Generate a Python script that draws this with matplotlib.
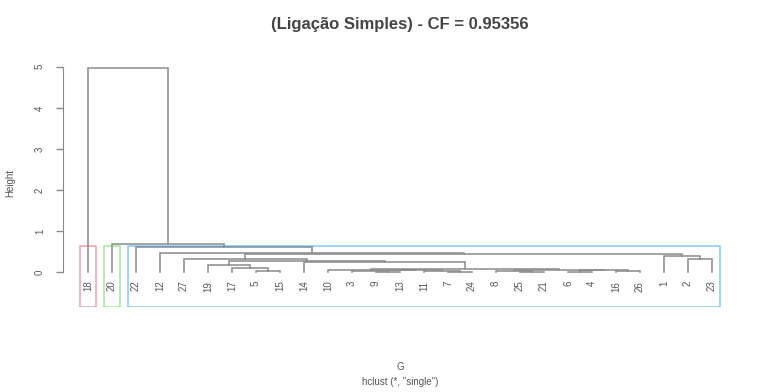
import matplotlib
matplotlib.use("Agg")
import matplotlib.pyplot as plt

plt.rcParams['font.family'] = ['Liberation Sans', 'DejaVu Sans']

# leaf labels in plotted order (left to right)
leaf_labels = ["18", "20", "22", "12", "27", "19", "17", "5", "15", "14",
               "10", "3", "9", "13", "11", "7", "24", "8", "25", "21",
               "6", "4", "16", "26", "1", "2", "23"]

# merges, R hclust style: negative = leaf number (1-based), positive = earlier merge row
merge_left = [-8, -7, -6, -13, -12, -16, -15, 4, -11, -19, -18, -21, -23, 12, 11, 9,
              -10, 3, -5, -26, -25, 19, -4, -3, -2, -1]
merge_right = [-9, 1, 2, -14, 4, -17, 6, 7, 8, -20, 10, -22, -24, 13, 14, 15,
               16, 17, 18, -27, 20, 21, 22, 23, 24, 25]
merge_height = [0.03, 0.11, 0.18, 0.02, 0.03, 0.02, 0.04, 0.05, 0.06, 0.01, 0.03, 0.02,
                0.03, 0.05, 0.06, 0.08, 0.25, 0.29, 0.33, 0.32, 0.41, 0.44, 0.47,
                0.61, 0.68, 4.98]

n_clusters = 3
cluster_sizes = [1, 1, 25]
box_colors = ["#DF536B", "#61D04F", "#2297E6"]

title = "(Ligação Simples) - CF = 0.95356"

fig = plt.figure(figsize=(7.64, 3.92), dpi=100)
ax = fig.add_axes([63 / 764, 1 - 307 / 392, (737 - 63) / 764, (307 - 58.5) / 392])
ymin = -0.84
ax.set_xlim(-0.04, len(leaf_labels) + 1.04)
ax.set_ylim(ymin, 5.2)

line_col = "#8a8a8a"
centers = []
for i in range(len(merge_height)):
    pts = []
    for child in (merge_left[i], merge_right[i]):
        if child < 0:
            pts.append((-child, 0.0))
        else:
            pts.append((centers[child - 1], merge_height[child - 1]))
    h = merge_height[i]
    (x1, y1), (x2, y2) = pts
    ax.plot([x1, x1, x2, x2], [y1, h, h, y2], color=line_col, lw=1.1,
            solid_joinstyle="miter")
    centers.append((x1 + x2) / 2)

for k, lab in enumerate(leaf_labels):
    ax.text(k + 1, -0.2, lab, rotation=90, ha="center", va="top",
            fontsize=7, color="#555555")

# rect.hclust boxes
top = (merge_height[-2] + merge_height[-3]) / 2
start = 0
for size, col in zip(cluster_sizes, box_colors):
    x0 = start + 0.66
    x1 = start + size + 0.33
    ax.plot([x0, x0, x1, x1, x0], [ymin, top, top, ymin, ymin], color=col,
            lw=1.2, alpha=0.5, clip_on=True)
    start += size

for s in ["top", "right", "bottom"]:
    ax.spines[s].set_visible(False)
ax.spines["left"].set_bounds(0, 5)
ax.spines["left"].set_color(line_col)
ax.set_xticks([])
ax.set_yticks(range(6))
ax.tick_params(axis="y", direction="out", length=5, width=1, color=line_col,
               labelsize=7, labelcolor="#555555", pad=8, labelrotation=90)
for t in ax.get_yticklabels():
    t.set_va("center")

fig.text(10 / 764, 1 - 183 / 392, "Height", rotation=90, ha="center", va="center",
         fontsize=7, color="#555555")
fig.text(400 / 764, 1 - 25 / 392, title, ha="center", va="center",
         fontsize=12, fontweight="bold", color="#444444")
fig.text(400 / 764, 1 - 367 / 392, "G", ha="center", va="center", fontsize=7,
         color="#555555")
fig.text(400 / 764, 1 - 382 / 392, 'hclust (*, "single")', ha="center", va="center",
         fontsize=7, color="#555555")

fig.savefig("out.png", dpi=100)
